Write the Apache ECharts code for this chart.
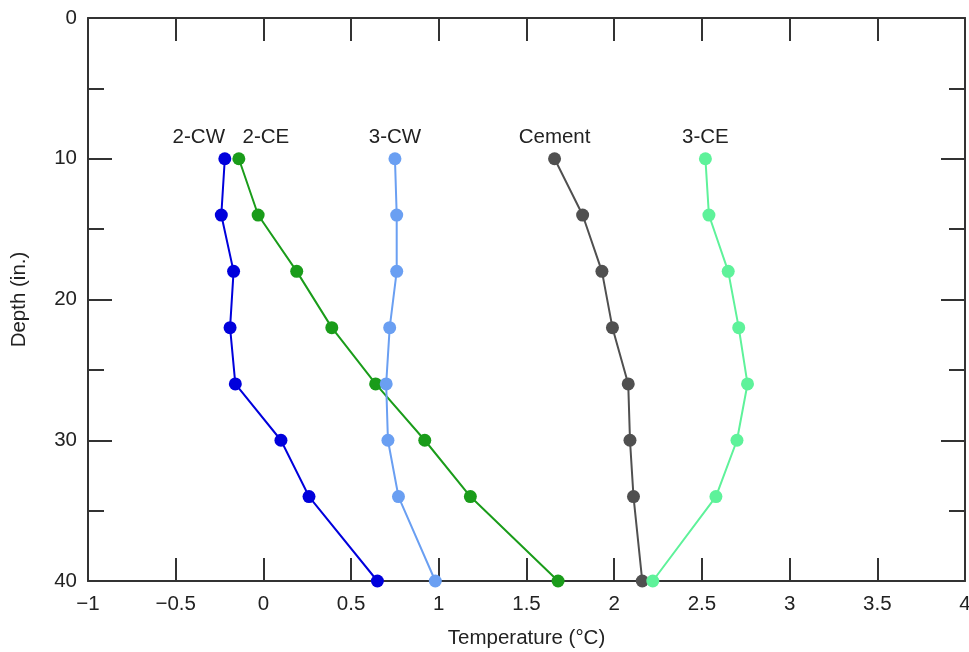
<!DOCTYPE html>
<html>
<head>
<meta charset="utf-8">
<script src="https://cdn.jsdelivr.net/npm/echarts@6/dist/echarts.min.js"></script>
<style>html,body{margin:0;padding:0;background:#fff}#c{width:969px;height:652px}</style>
</head>
<body>
<div id="c"></div>
<script>
// Depths (in.) shared by all series
var depths = [10, 14, 18, 22, 26, 30, 34, 40];
// Temperatures (°C) per series
var seriesNames = ['2-CW', '2-CE', '3-CW', 'Cement', '3-CE'];
var t2CW   = [-0.22, -0.24, -0.17, -0.19, -0.16, 0.10, 0.26, 0.65];
var t2CE   = [-0.14, -0.03, 0.19, 0.39, 0.64, 0.92, 1.18, 1.68];
var t3CW   = [0.75, 0.76, 0.76, 0.72, 0.70, 0.71, 0.77, 0.98];
var tCement= [1.66, 1.82, 1.93, 1.99, 2.08, 2.09, 2.11, 2.16];
var t3CE   = [2.52, 2.54, 2.65, 2.71, 2.76, 2.70, 2.58, 2.22];
var xTicks = [-1, -0.5, 0, 0.5, 1, 1.5, 2, 2.5, 3, 3.5, 4];
var yTicks = [0, 10, 20, 30, 40];

var colors = ['#0000dc', '#1a9c1a', '#6a9ff2', '#505050', '#5ef29a'];
var labelOffsets = [[-26, 0], [27, 0], [0, 0], [0, 0], [0, 0]];
var allTemps = [t2CW, t2CE, t3CW, tCement, t3CE];

var FONT = 'Liberation Sans, Arial, Helvetica, sans-serif';
var TXT = '#222';
var FS = 20.5;

function mkData(temps, idx) {
  return temps.map(function (t, i) {
    var item = { value: [t, depths[i]] };
    if (i === 0) {
      item.label = {
        show: true, position: 'top', distance: 4,
        formatter: seriesNames[idx], offset: labelOffsets[idx],
        color: TXT, fontSize: FS, fontFamily: FONT
      };
    }
    return item;
  });
}

var axisLine = { show: true, onZero: false, lineStyle: { color: '#333', width: 2 } };
function fmtX(v) { return String(v).replace('-', '\u2212'); }

var chart = echarts.init(document.getElementById('c'));
chart.setOption({
  animation: false,
  grid: { left: 88, right: 4, top: 18, bottom: 71, outerBoundsMode: 'none', containLabel: false },
  xAxis: [{
    type: 'value', position: 'bottom', min: xTicks[0], max: xTicks[xTicks.length - 1], interval: 0.5,
    name: 'Temperature (°C)', nameLocation: 'middle', nameGap: 47,
    nameTextStyle: { color: TXT, fontSize: FS, fontFamily: FONT },
    axisLine: axisLine,
    axisTick: { show: true, inside: true, length: 23, lineStyle: { color: '#333', width: 2 } },
    axisLabel: { color: TXT, fontSize: FS, fontFamily: FONT, margin: 13, formatter: fmtX, showMinLabel: true, showMaxLabel: true },
    splitLine: { show: false }
  }, {
    type: 'value', position: 'top', min: xTicks[0], max: xTicks[xTicks.length - 1], interval: 0.5,
    axisLine: axisLine,
    axisTick: { show: true, inside: true, length: 23, lineStyle: { color: '#333', width: 2 } },
    axisLabel: { show: false },
    splitLine: { show: false }
  }],
  yAxis: [{
    type: 'value', position: 'left', inverse: true, min: yTicks[0], max: yTicks[yTicks.length - 1], interval: 10,
    name: 'Depth (in.)', nameLocation: 'middle', nameGap: 58, nameRotate: 90,
    nameTextStyle: { color: TXT, fontSize: FS, fontFamily: FONT },
    axisLine: axisLine,
    axisTick: { show: true, inside: true, length: 24, lineStyle: { color: '#333', width: 2 } },
    minorTick: { show: true, splitNumber: 2, length: 16, lineStyle: { color: '#333', width: 2 } },
    axisLabel: { color: TXT, fontSize: FS, fontFamily: FONT, margin: 11 },
    splitLine: { show: false }, minorSplitLine: { show: false }
  }, {
    type: 'value', position: 'right', inverse: true, min: yTicks[0], max: yTicks[yTicks.length - 1], interval: 10,
    axisLine: axisLine,
    axisTick: { show: true, inside: true, length: 24, lineStyle: { color: '#333', width: 2 } },
    minorTick: { show: true, splitNumber: 2, length: 16, lineStyle: { color: '#333', width: 2 } },
    axisLabel: { show: false },
    splitLine: { show: false }, minorSplitLine: { show: false }
  }],
  series: allTemps.map(function (temps, idx) {
    return {
      name: seriesNames[idx], type: 'line', xAxisIndex: 0, yAxisIndex: 0,
      data: mkData(temps, idx),
      symbol: 'circle', symbolSize: 13,
      lineStyle: { color: colors[idx], width: 2 },
      itemStyle: { color: colors[idx] },
      z: 2 + idx
    };
  })
});
</script>
</body>
</html>
